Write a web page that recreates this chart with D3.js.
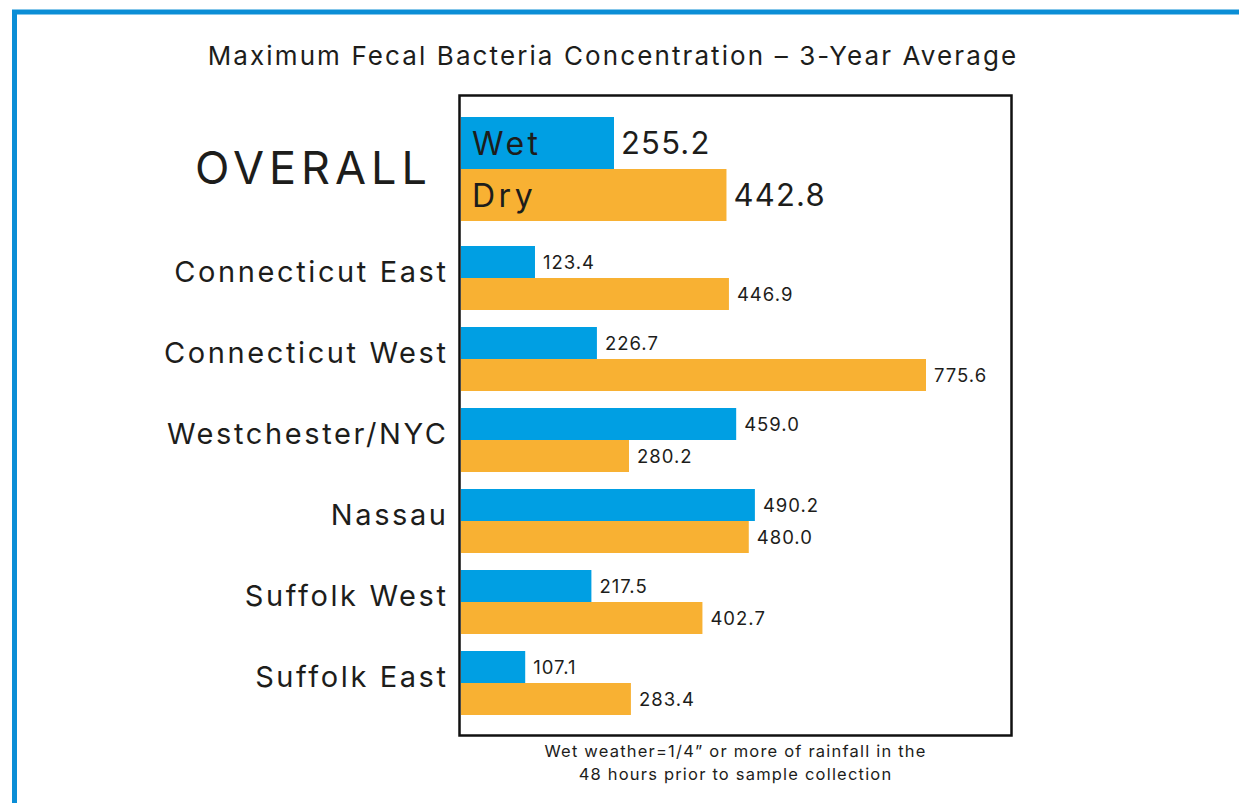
<!DOCTYPE html>
<html>
<head>
<meta charset="utf-8">
<script src="https://cdn.jsdelivr.net/npm/d3@7"></script>
<style>
    body { margin: 0; background: #fff; }
    svg text { font-family: Inter, "Noto Sans", sans-serif; fill: #1d1d1b; }
</style>
</head>
<body>
<div id="container"></div>
<script>
"use strict"

/* DATA
 */
const title = "Maximum Fecal Bacteria Concentration \u2013 3-Year Average";
const series = ["Wet", "Dry"];
const overall = [255.2, 442.8];
const regions = ["Connecticut East", "Connecticut West", "Westchester/NYC",
                 "Nassau", "Suffolk West", "Suffolk East"];
const wetValues = [123.4, 226.7, 459.0, 490.2, 217.5, 107.1];
const dryValues = [446.9, 775.6, 280.2, 480.0, 402.7, 283.4];
const footnote = ["Wet weather=1/4\u201d or more of rainfall in the",
                  "48 hours prior to sample collection"];

const colors = { Wet: "#009fe3", Dry: "#f8b133" };

/* SETUP
 */
const width = 1239, height = 803;
const svg = d3.select("#container").append("svg")
    .attr("width", width)
    .attr("height", height);

// blue frame (only top + left edges fall inside the picture)
svg.append("path")
    .attr("d", `M14.5,${height} V12 H${width}`)
    .attr("fill", "none")
    .attr("stroke", "#0b8ed6")
    .attr("stroke-width", 5);

svg.append("text")
    .attr("x", 612 + 1).attr("y", 65)
    .attr("text-anchor", "middle")
    .style("font-size", "26px")
    .style("letter-spacing", "2.1px")
    .text(title);

// plot box
const box = { x0: 459.5, x1: 1011.5, y0: 95.5, y1: 735.5 };
svg.append("rect")
    .attr("x", box.x0).attr("y", box.y0)
    .attr("width", box.x1 - box.x0)
    .attr("height", box.y1 - box.y0)
    .attr("fill", "none")
    .attr("stroke", "#111")
    .attr("stroke-width", 2.5);

/* SCALES
 */
const x = d3.scaleLinear()
    .domain([0, d3.max(dryValues)])
    .range([461, 926]);

const yOverall = d3.scaleBand()
    .domain(series)
    .range([117, 221]);

const y = d3.scaleBand()
    .domain(regions)
    .range([237.5, 723.5])
    .paddingInner(0.21)
    .paddingOuter(0.105);

const ySub = d3.scaleBand()
    .domain(series)
    .range([0, y.bandwidth()]);

/* OVERALL
 */
const ov = svg.append("g").attr("class", "overall");
const ovData = series.map((s, i) => ({ key: s, value: overall[i] }));

ov.selectAll("rect")
    .data(ovData)
    .enter().append("rect")
    .attr("x", x(0))
    .attr("y", (d) => yOverall(d.key))
    .attr("width", (d) => x(d.value) - x(0))
    .attr("height", yOverall.bandwidth())
    .attr("fill", (d) => colors[d.key]);

ov.selectAll(".series-label")
    .data(ovData)
    .enter().append("text")
    .attr("class", "series-label")
    .attr("x", x(0) + 11)
    .attr("y", (d) => yOverall(d.key) + yOverall.bandwidth() / 2)
    .attr("dy", "0.36em")
    .style("font-size", "32px")
    .style("letter-spacing", "3.5px")
    .text((d) => d.key);

ov.selectAll(".value-label")
    .data(ovData)
    .enter().append("text")
    .attr("class", "value-label")
    .attr("x", (d) => x(d.value) + 7)
    .attr("y", (d) => yOverall(d.key) + yOverall.bandwidth() / 2)
    .attr("dy", "0.36em")
    .style("font-size", "31px")
    .style("letter-spacing", "1.2px")
    .text((d) => d.value.toFixed(1));

svg.append("text")
    .attr("x", 427 + 5).attr("y", 168)
    .attr("text-anchor", "end")
    .attr("dy", "0.36em")
    .style("font-size", "45px")
    .style("letter-spacing", "5px")
    .text("OVERALL");

/* REGIONS
 */
const groups = svg.selectAll(".region")
    .data(regions.map((r, i) => ({
        region: r,
        bars: [{ key: "Wet", value: wetValues[i] },
               { key: "Dry", value: dryValues[i] }]
    })))
    .enter().append("g")
    .attr("class", "region")
    .attr("transform", (d) => `translate(0,${y(d.region)})`);

groups.selectAll("rect")
    .data((d) => d.bars)
    .enter().append("rect")
    .attr("x", x(0))
    .attr("y", (d) => ySub(d.key))
    .attr("width", (d) => x(d.value) - x(0))
    .attr("height", ySub.bandwidth())
    .attr("fill", (d) => colors[d.key]);

groups.selectAll(".value-label")
    .data((d) => d.bars)
    .enter().append("text")
    .attr("class", "value-label")
    .attr("x", (d) => x(d.value) + 8)
    .attr("y", (d) => ySub(d.key) + ySub.bandwidth() / 2)
    .attr("dy", "0.36em")
    .style("font-size", "18.5px")
    .style("letter-spacing", "1px")
    .text((d) => d.value.toFixed(1));

groups.append("text")
    .attr("x", 446 + 2.6)
    .attr("y", y.bandwidth() / 2 - 6)
    .attr("dy", "0.36em")
    .attr("text-anchor", "end")
    .style("font-size", "29px")
    .style("letter-spacing", "2.6px")
    .text((d) => d.region);

/* FOOTNOTE
 */
svg.selectAll(".footnote")
    .data(footnote)
    .enter().append("text")
    .attr("class", "footnote")
    .attr("x", (box.x0 + box.x1) / 2)
    .attr("y", (d, i) => 757 + i * 23)
    .attr("text-anchor", "middle")
    .style("font-size", "16.5px")
    .style("letter-spacing", "1.2px")
    .text((d) => d);
</script>
</body>
</html>
